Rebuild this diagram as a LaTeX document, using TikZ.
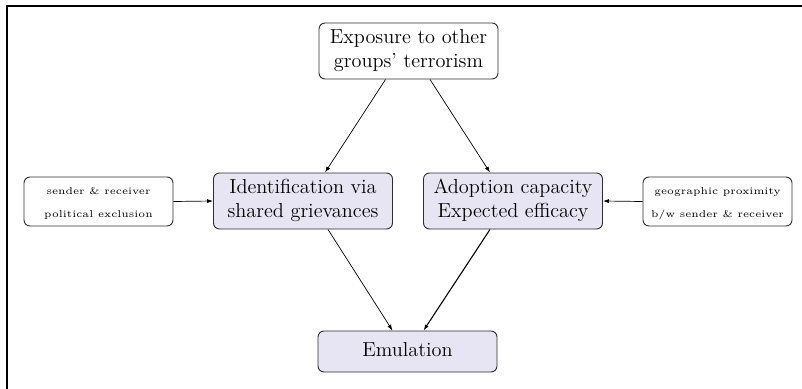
\documentclass[tikz,border=0pt]{standalone}
\usepackage{graphicx}
\usetikzlibrary{arrows.meta}
\definecolor{boxfill}{RGB}{231,229,243}
\definecolor{boxline}{RGB}{45,45,45}
\newcommand{\maintxt}[1]{\scalebox{1.69}{\large\begin{tabular}{@{}c@{}}#1\end{tabular}}}
\newcommand{\sidetxt}[1]{\scalebox{2.0}{\tiny\renewcommand{\arraystretch}{1.9}\begin{tabular}{@{}c@{}}#1\end{tabular}}}
\begin{document}
\begin{tikzpicture}[x=1pt,y=-1pt,
  mainbox/.style={draw=boxline,line width=0.9pt,rounded corners=6pt,inner sep=0pt,
    minimum width=179pt,minimum height=56pt,align=center},
  filledbox/.style={mainbox,fill=boxfill},
  sidebox/.style={draw=boxline,line width=0.9pt,rounded corners=6pt,inner sep=0pt,
    minimum width=149pt,minimum height=49pt,align=center},
  arr/.style={line width=0.7pt,-{Latex[length=6pt,width=4pt]}},
  arrthick/.style={line width=1.1pt,-{Latex[length=6pt,width=4pt]}}]
\useasboundingbox (0,0) rectangle (802,388);
\draw[line width=2pt] (6.5,400) -- (6.5,6) -- (810,6);
\node[mainbox] (expo) at (408.5,51) {\maintxt{Exposure to other\\groups' terrorism}};
\node[filledbox] (ident) at (303,201) {\maintxt{Identification via\\shared grievances}};
\node[filledbox] (adopt) at (513,201) {\maintxt{Adoption capacity\\Expected efficacy}};
\node[filledbox,minimum height=41pt] (emul) at (407.5,351.5) {\maintxt{Emulation}};
\node[sidebox] (left) at (98.5,201.5) {\sidetxt{sender \& receiver\\political exclusion}};
\node[sidebox] (right) at (717.5,201.5) {\sidetxt{geographic proximity\\b/w sender \& receiver}};
\draw[arr] ([xshift=-23pt]expo.south) -- ([xshift=22pt]ident.north);
\draw[arr] ([xshift=21.5pt]expo.south) -- ([xshift=-23pt]adopt.north);
\draw[arr] ([xshift=25pt]ident.south) -- ([xshift=-15pt]emul.north);
\draw[arrthick] ([xshift=-23pt]adopt.south) -- ([xshift=16pt]emul.north);
\draw[arr] (left.east) -- (ident.west);
\draw[arr] (right.west) -- (adopt.east);
\end{tikzpicture}
\end{document}
